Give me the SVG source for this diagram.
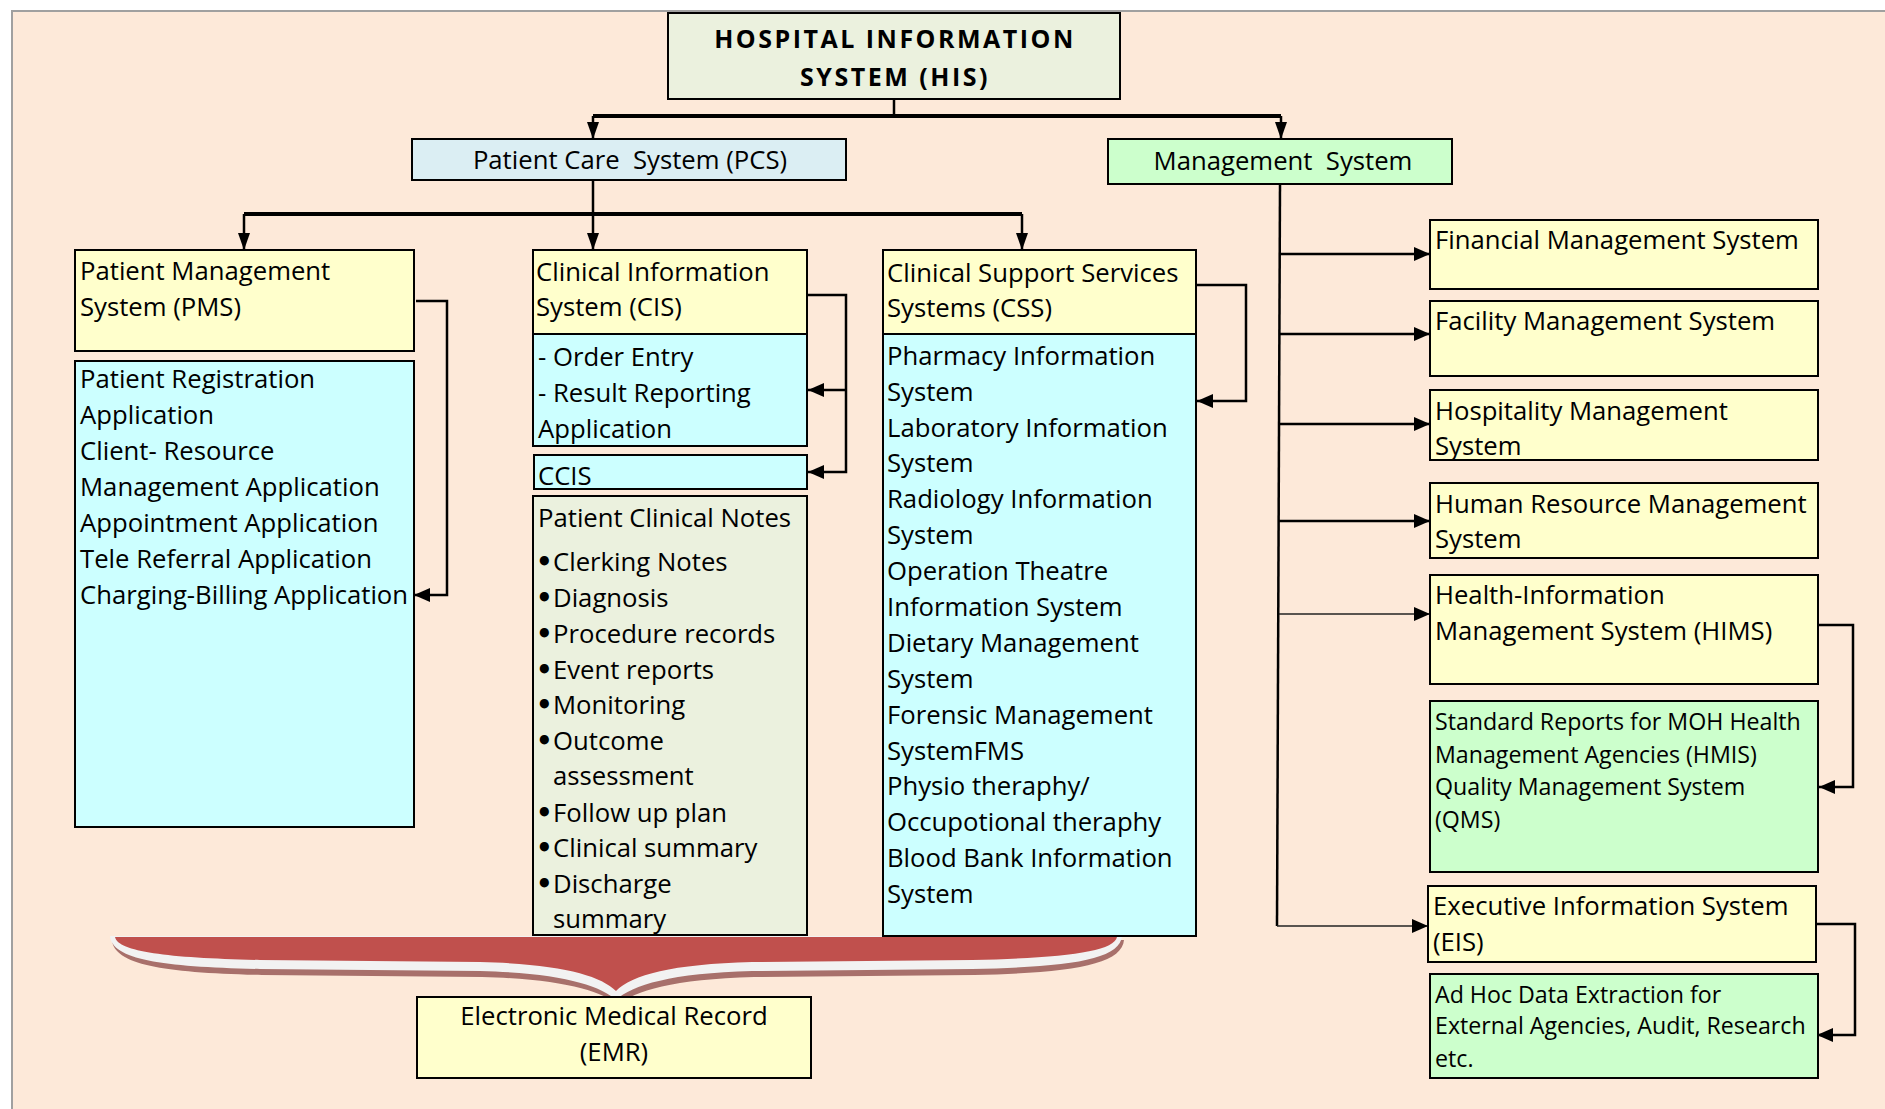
<svg xmlns="http://www.w3.org/2000/svg" width="1885" height="1109" viewBox="0 0 1885 1109">
<style>
.t{font-family:"Open Sans","Noto Sans",sans-serif;font-size:25.7px;fill:#000}
.s{font-size:23.2px}
.ttl{font-weight:bold;font-size:25px;letter-spacing:2.5px}
.bu{font-family:"DejaVu Sans",sans-serif;font-size:26px;font-weight:bold}
.b{stroke:#000;stroke-width:2}
.y{fill:#FFFFCC}.c{fill:#CCFFFF}.g{fill:#CCFFCC}.o{fill:#EBF1DE}
.ln{fill:none;stroke:#000;stroke-width:2.5}
.th{stroke-width:4}
.tn{stroke-width:1.6;stroke:#222}
</style>
<defs>
<marker id="a" markerUnits="userSpaceOnUse" markerWidth="18" markerHeight="14" refX="16" refY="7" orient="auto">
<path d="M0,0 L16,7 L0,14 Z" fill="#000"/>
</marker>
<marker id="ad" markerUnits="userSpaceOnUse" markerWidth="18" markerHeight="14" refX="17" refY="6" orient="auto">
<path d="M0,0 L17,6 L0,12 Z" fill="#000"/>
</marker>
</defs>
<rect x="0" y="0" width="1885" height="1109" fill="#fff"/>
<rect x="12" y="11" width="1875" height="1100" fill="#FDE9D9" stroke="#A0A0A0" stroke-width="2"/>

<g id="emr-brace">
<path d="M112,940 L1124,940 C1122,965 1070,973 974,975 L754,977 C674,979 634,991 618,1005 C602,991 562,979 482,977 L262,975 C166,973 114,965 112,940 Z" fill="#A8706B"/>
<path d="M110,936 L1122,936 C1120,960 1068,967 972,969 L752,971 C672,973 632,985 616,1000 C600,985 560,973 480,971 L260,969 C164,967 112,960 110,936 Z" fill="#F2F2F2"/>
<path d="M115,937 L1117,937 C1114,952 1062,958 972,960 L752,962 C672,964 632,975 616,991 C600,975 560,964 480,962 L260,960 C170,958 118,952 115,937 Z" fill="#C0504D"/>
</g>

<g id="connectors">
<path class="ln" d="M894,99 V116"/>
<path class="ln th" d="M593,116 H1281"/>
<path class="ln" d="M593,116 V139" marker-end="url(#ad)"/>
<path class="ln" d="M1281,116 V139" marker-end="url(#ad)"/>
<path class="ln" d="M593,180 V214"/>
<path class="ln th" d="M244,214 H1022"/>
<path class="ln" d="M244,214 V250" marker-end="url(#ad)"/>
<path class="ln" d="M593,214 V250" marker-end="url(#ad)"/>
<path class="ln" d="M1022,214 V250" marker-end="url(#ad)"/>
<path class="ln" d="M416,301 H447 V595 H414" marker-end="url(#a)"/>
<path class="ln" d="M807,295 H846 V472 H808" marker-end="url(#a)"/>
<path class="ln" d="M846,390 H808" marker-end="url(#a)"/>
<path class="ln" d="M1196,285 H1246 V401 H1197" marker-end="url(#a)"/>
<path class="ln" d="M1280,184 L1277,926"/>
<path class="ln" d="M1280,254 H1430" marker-end="url(#a)"/>
<path class="ln" d="M1280,334 H1430" marker-end="url(#a)"/>
<path class="ln" d="M1280,424 H1430" marker-end="url(#a)"/>
<path class="ln" d="M1279,521 H1430" marker-end="url(#a)"/>
<path class="ln tn" d="M1279,614 H1430" marker-end="url(#a)"/>
<path class="ln tn" d="M1277,926 H1428" marker-end="url(#a)"/>
<path class="ln" d="M1818,625 H1853 V787 H1819" marker-end="url(#a)"/>
<path class="ln" d="M1816,924 H1855 V1035 H1817" marker-end="url(#a)"/>
</g>

<g id="his">
<rect class="b" x="668" y="13" width="452" height="86" fill="#EBF1DE"/>
<text class="t ttl" x="895" y="48" text-anchor="middle">HOSPITAL INFORMATION</text>
<text class="t ttl" x="895" y="86" text-anchor="middle">SYSTEM (HIS)</text>
</g>

<g id="pcs">
<rect class="b" x="412" y="139" width="434" height="41" fill="#DBEEF3"/>
<text class="t" x="630" y="169" text-anchor="middle" xml:space="preserve">Patient Care  System (PCS)</text>
</g>

<g id="ms">
<rect class="b" x="1108" y="139" width="344" height="45" fill="#CCFFCC"/>
<text class="t" x="1283" y="170" text-anchor="middle" xml:space="preserve">Management  System</text>
</g>

<g id="pms">
<rect class="b y" x="75" y="250" width="339" height="101"/>
<text class="t" x="80" y="280">Patient Management</text>
<text class="t" x="80" y="316">System (PMS)</text>
</g>

<g id="pms-apps">
<rect class="b c" x="75" y="361" width="339" height="466"/>
<text class="t" x="80" y="388">Patient Registration</text>
<text class="t" x="80" y="424">Application</text>
<text class="t" x="80" y="460">Client- Resource</text>
<text class="t" x="80" y="496">Management Application</text>
<text class="t" x="80" y="532">Appointment Application</text>
<text class="t" x="80" y="568">Tele Referral Application</text>
<text class="t" x="80" y="604">Charging-Billing Application</text>
</g>

<g id="cis">
<rect class="b y" x="533" y="250" width="274" height="84"/>
<text class="t" x="536" y="281">Clinical Information</text>
<text class="t" x="536" y="316">System (CIS)</text>
</g>

<g id="cis-apps">
<rect class="b c" x="533" y="334" width="274" height="112"/>
<text class="t" x="538" y="366">- Order Entry</text>
<text class="t" x="538" y="402">- Result Reporting</text>
<text class="t" x="538" y="438">Application</text>
</g>

<g id="ccis">
<rect class="b c" x="534" y="455" width="273" height="34"/>
<text class="t" x="538" y="485">CCIS</text>
</g>

<g id="pcn">
<rect class="b o" x="533" y="496" width="274" height="439"/>
<text class="t" x="538" y="527">Patient Clinical Notes</text>
<text class="t" x="536" y="571"><tspan class="bu">•</tspan><tspan x="553">Clerking Notes</tspan></text>
<text class="t" x="536" y="607"><tspan class="bu">•</tspan><tspan x="553">Diagnosis</tspan></text>
<text class="t" x="536" y="643"><tspan class="bu">•</tspan><tspan x="553">Procedure records</tspan></text>
<text class="t" x="536" y="679"><tspan class="bu">•</tspan><tspan x="553">Event reports</tspan></text>
<text class="t" x="536" y="714"><tspan class="bu">•</tspan><tspan x="553">Monitoring</tspan></text>
<text class="t" x="536" y="750"><tspan class="bu">•</tspan><tspan x="553">Outcome</tspan></text>
<text class="t" x="553" y="785">assessment</text>
<text class="t" x="536" y="822"><tspan class="bu">•</tspan><tspan x="553">Follow up plan</tspan></text>
<text class="t" x="536" y="857"><tspan class="bu">•</tspan><tspan x="553">Clinical summary</tspan></text>
<text class="t" x="536" y="893"><tspan class="bu">•</tspan><tspan x="553">Discharge</tspan></text>
<text class="t" x="553" y="928">summary</text>
</g>

<g id="css">
<rect class="b y" x="883" y="250" width="313" height="84"/>
<text class="t" x="887" y="282">Clinical Support Services</text>
<text class="t" x="887" y="317">Systems (CSS)</text>
</g>

<g id="css-apps">
<rect class="b c" x="883" y="334" width="313" height="602"/>
<text class="t" x="887" y="365">Pharmacy Information</text>
<text class="t" x="887" y="401">System</text>
<text class="t" x="887" y="437">Laboratory Information</text>
<text class="t" x="887" y="472">System</text>
<text class="t" x="887" y="508">Radiology Information</text>
<text class="t" x="887" y="544">System</text>
<text class="t" x="887" y="580">Operation Theatre</text>
<text class="t" x="887" y="616">Information System</text>
<text class="t" x="887" y="652">Dietary Management</text>
<text class="t" x="887" y="688">System</text>
<text class="t" x="887" y="724">Forensic Management</text>
<text class="t" x="887" y="760">SystemFMS</text>
<text class="t" x="887" y="795">Physio theraphy/</text>
<text class="t" x="887" y="831">Occupotional theraphy</text>
<text class="t" x="887" y="867">Blood Bank Information</text>
<text class="t" x="887" y="903">System</text>
</g>

<g id="fin">
<rect class="b y" x="1430" y="220" width="388" height="69"/>
<text class="t" x="1435" y="249">Financial Management System</text>
</g>
<g id="fac">
<rect class="b y" x="1430" y="301" width="388" height="75"/>
<text class="t" x="1435" y="330">Facility Management System</text>
</g>
<g id="hosp">
<rect class="b y" x="1430" y="390" width="388" height="70"/>
<text class="t" x="1435" y="420">Hospitality Management</text>
<text class="t" x="1435" y="455">System</text>
</g>
<g id="hr">
<rect class="b y" x="1430" y="483" width="388" height="75"/>
<text class="t" x="1435" y="513">Human Resource Management</text>
<text class="t" x="1435" y="548">System</text>
</g>
<g id="hims">
<rect class="b y" x="1430" y="575" width="388" height="109"/>
<text class="t" x="1435" y="604">Health-Information</text>
<text class="t" x="1435" y="640">Management System (HIMS)</text>
</g>
<g id="std">
<rect class="b g" x="1430" y="701" width="388" height="171"/>
<text class="t s" x="1435" y="730">Standard Reports for MOH Health</text>
<text class="t s" x="1435" y="763">Management Agencies (HMIS)</text>
<text class="t s" x="1435" y="795">Quality Management System</text>
<text class="t s" x="1435" y="828">(QMS)</text>
</g>
<g id="eis">
<rect class="b y" x="1428" y="886" width="388" height="76"/>
<text class="t" x="1433" y="915">Executive Information System</text>
<text class="t" x="1433" y="951">(EIS)</text>
</g>
<g id="adhoc">
<rect class="b g" x="1430" y="974" width="388" height="104"/>
<text class="t s" x="1435" y="1003">Ad Hoc Data Extraction for</text>
<text class="t s" x="1435" y="1034">External Agencies, Audit, Research</text>
<text class="t s" x="1435" y="1067">etc.</text>
</g>

<g id="emr">
<rect class="b y" x="417" y="997" width="394" height="81"/>
<text class="t" x="614" y="1025" text-anchor="middle">Electronic Medical Record</text>
<text class="t" x="614" y="1061" text-anchor="middle">(EMR)</text>
</g>
</svg>
